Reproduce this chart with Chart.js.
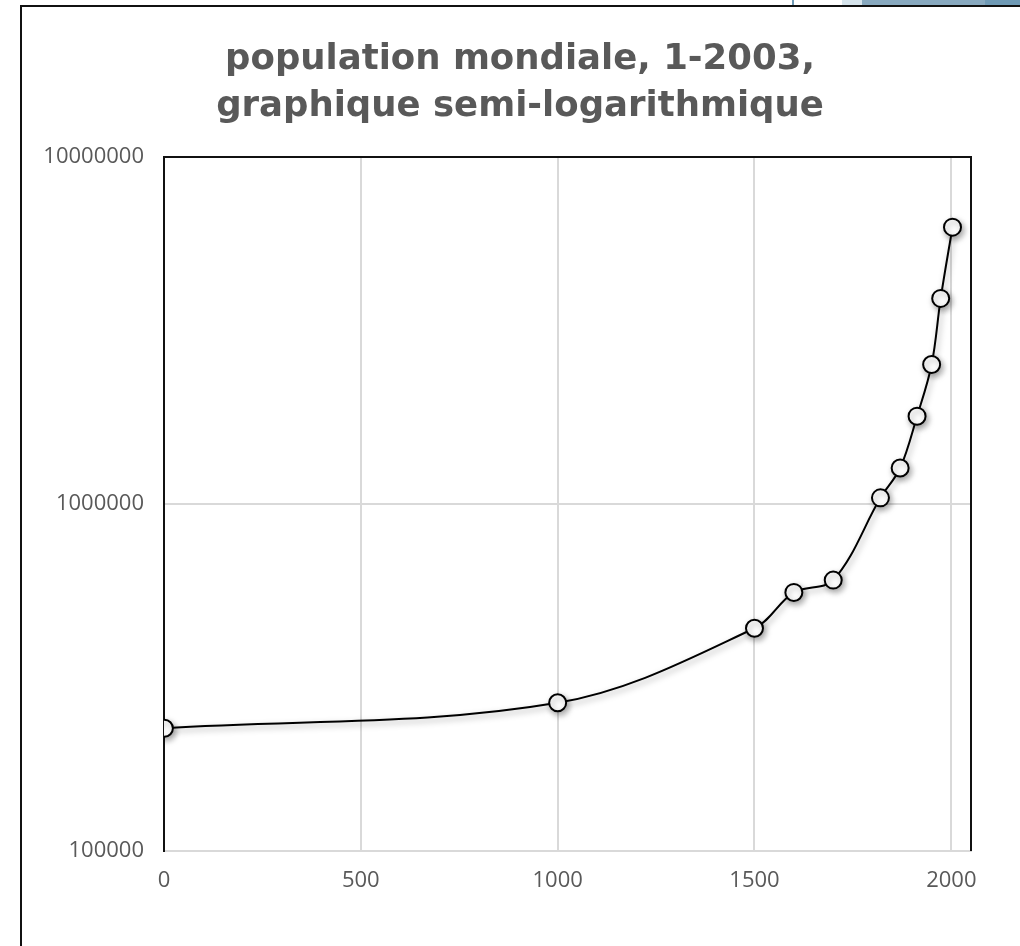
<!DOCTYPE html>
<html>
<head>
<meta charset="utf-8">
<script src="https://cdn.jsdelivr.net/npm/chart.js@4/dist/chart.umd.min.js"></script>
<style>
  html, body { margin: 0; padding: 0; background: #fff; overflow: hidden; }
  #wrap { position: relative; width: 1020px; height: 946px; overflow: hidden; }
  #frame { position: absolute; left: 20px; top: 5px; width: 1200px; height: 1200px;
           border-left: 2px solid #111; border-top: 2px solid #111; box-sizing: border-box; }
  #deco { position: absolute; left: 790px; top: 0; width: 240px; height: 5px;
          background: linear-gradient(90deg, #fff 0px, #fff 2px, #6f9ab5 2px, #6f9ab5 4px, #fff 4px, #fff 52px,
          #d6e4ec 52px, #d6e4ec 72px, #88a9bf 72px, #88a9bf 195px, #6f9ab5 195px); }
  #c { position: absolute; left: 0; top: 0; }
</style>
</head>
<body>
<div id="wrap">
  <div id="deco"></div>
  <div id="frame"></div>
  <canvas id="c" width="1020" height="946"></canvas>
</div>
<script>
// Data: world population (thousands), Maddison estimates
const years = [1, 1000, 1500, 1600, 1700, 1820, 1870, 1913, 1950, 1973, 2003];
const population = [225820, 267330, 438428, 556148, 603490, 1041708, 1270014, 1791020, 2524531, 3913482, 6278620];
const xTicks = [0, 500, 1000, 1500, 2000];
const yTicks = [100000, 1000000, 10000000];
const titleLines = ['population mondiale, 1-2003,', 'graphique semi-logarithmique'];

const shadowPlugin = {
  id: 'shadow',
  beforeDatasetDraw(chart) {
    const ctx = chart.ctx;
    ctx.save();
    ctx.shadowColor = 'rgba(0,0,0,0.35)';
    ctx.shadowBlur = 6;
    ctx.shadowOffsetX = 2;
    ctx.shadowOffsetY = 3;
  },
  afterDatasetDraw(chart) {
    chart.ctx.restore();
  }
};

const framePlugin = {
  id: 'plotFrame',
  afterDraw(chart) {
    const { ctx, chartArea: a } = chart;
    ctx.save();
    ctx.strokeStyle = '#111';
    ctx.lineWidth = 2;
    ctx.beginPath();
    ctx.moveTo(a.left, a.top);
    ctx.lineTo(a.right, a.top);
    ctx.lineTo(a.right, a.bottom);
    ctx.stroke();
    ctx.restore();
  }
};

const tickFont = { family: '"Open Sans", sans-serif', size: 22 };

new Chart(document.getElementById('c'), {
  type: 'line',
  data: {
    datasets: [{
      data: years.map((y, i) => ({ x: y, y: population[i] })),
      borderColor: '#000',
      borderWidth: 2,
      tension: 0.35,
      pointRadius: 8.5,
      pointBorderWidth: 2,
      pointBackgroundColor: '#fff',
      pointBorderColor: '#000',
      fill: false
    }]
  },
  options: {
    responsive: false,
    animation: false,
    layout: { padding: { left: 20, right: 0, top: 0, bottom: 0 } },
    plugins: {
      legend: { display: false },
      tooltip: { enabled: false },
      title: {
        display: true,
        text: titleLines,
        color: '#595959',
        font: { family: '"DejaVu Sans", sans-serif', size: 35.5, weight: 'bold', lineHeight: 1.324 },
        padding: { top: 36, bottom: 27 }
      }
    },
    scales: {
      x: {
        type: 'linear',
        min: 0,
        max: 2050,
        afterBuildTicks(scale) { scale.ticks = xTicks.map(v => ({ value: v })); },
        afterFit(scale) { scale.height = 95; },
        ticks: { color: '#595959', font: tickFont, padding: 17, callback: v => String(v), autoSkip: false, maxRotation: 0 },
        grid: { color: '#d9d9d9', lineWidth: 2, drawTicks: false },
        border: { color: '#d9d9d9', width: 2 }
      },
      y: {
        type: 'logarithmic',
        min: 100000,
        max: 10000000,
        afterBuildTicks(scale) { scale.ticks = yTicks.map(v => ({ value: v })); },
        afterFit(scale) { scale.width = 144; },
        ticks: { color: '#595959', font: tickFont, padding: 20, callback: v => String(v), autoSkip: false },
        grid: { color: '#d9d9d9', lineWidth: 2, drawTicks: false },
        border: { color: '#111', width: 2 }
      },
      spacer: {
        type: 'linear',
        position: 'right',
        afterFit(scale) { scale.width = 49; },
        ticks: { display: false },
        grid: { display: false, drawTicks: false },
        border: { display: false }
      }
    }
  },
  plugins: [shadowPlugin, framePlugin]
});
</script>
</body>
</html>
